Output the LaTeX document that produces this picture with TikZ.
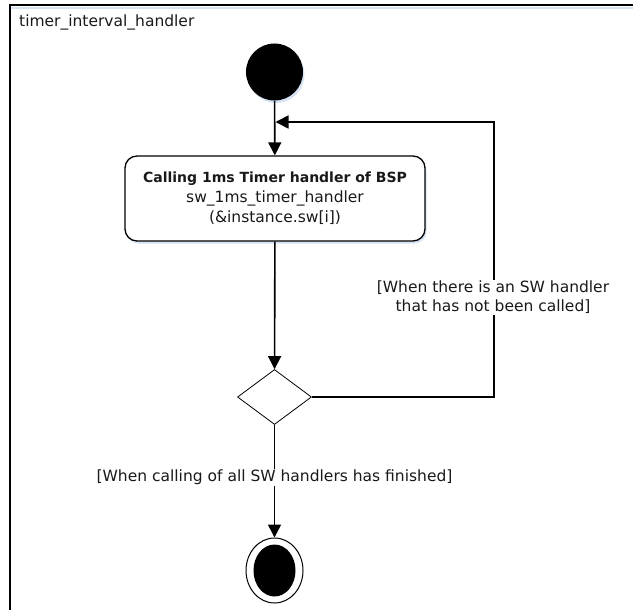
\documentclass[tikz,border=0pt]{standalone}
\usepackage{fontspec}
\setmainfont{DejaVu Sans}
\usetikzlibrary{shapes.geometric,arrows.meta,shadows}
\definecolor{shadowblue}{RGB}{214,227,242}
\definecolor{txt}{RGB}{25,25,25}
\begin{document}
\begin{tikzpicture}[x=1pt,y=-1pt,
  every node/.style={font=\fontsize{15.5}{20}\selectfont, text=txt},
  flow/.style={line width=1.6pt, -{Triangle[length=13pt,width=13pt]}},
  guard/.style={fill=white, inner sep=1pt, align=center, font=\fontsize{15.5}{19}\selectfont},
  softshadow/.style={drop shadow={shadow xshift=1.5pt, shadow yshift=-2.5pt, fill=shadowblue, opacity=1}},
]
\useasboundingbox (0,0) rectangle (633,610);
% frame
\draw[shadowblue, line width=2pt] (11,8.5) -- (633,8.5);
\draw[line width=2pt] (10,610) -- (10,5) -- (633,5);
\node[anchor=west, inner sep=0] (title) at (19,22) {timer\_interval\_handler};
% nodes
\node[circle, fill=black, minimum size=57pt, inner sep=0, softshadow] (start) at (274.5,72) {};
\node[draw, rounded corners=12pt, line width=1.3pt, minimum width=300pt, minimum height=85pt,
      align=center, fill=white, softshadow] (act) at (275,198.5)
  {{\fontsize{14}{20}\selectfont\bfseries Calling 1ms Timer handler of BSP}\\
   sw\_1ms\_timer\_handler\\
   (\&instance.sw[i])};
\node[diamond, draw, line width=0.8pt, minimum width=74pt, minimum height=55pt, inner sep=0, fill=white] (dec) at (274.5,397) {};
\node[ellipse, draw, line width=1pt, minimum width=57pt, minimum height=65pt, inner sep=0, fill=white] (end) at (274.5,570.5) {};
\node[ellipse, fill=black, minimum width=42pt, minimum height=52pt, inner sep=0] (endin) at (end.center) {};
% connectors
\coordinate (loopR) at (494,397);
\coordinate (loopT) at (494,122);
\coordinate (join) at (275.5,122);
\draw[flow] (start) -- (act);
\draw[flow] (act) -- (dec);
\draw[flow] (dec.east) -- (loopR) -- (loopT) -- (join);
\draw[flow] (dec) -- (end);
% guards
\node[guard] (g1) at (493,297.5) {[When there is an SW handler\\that has not been called]};
\node[guard] (g2) at (274.5,477) {[When calling of all SW handlers has finished]};
\end{tikzpicture}
\end{document}
